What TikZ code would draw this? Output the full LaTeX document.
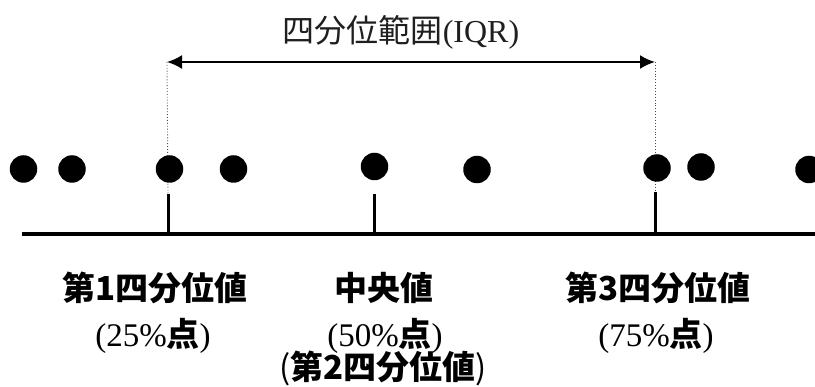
\documentclass[tikz,border=0pt]{standalone}
\usepackage{fontspec}
\setmainfont{Liberation Serif}
\newfontfamily\jp{Noto Sans CJK JP}
\usetikzlibrary{arrows.meta}
\tikzset{
  dot/.style={circle, fill=black, draw=none, minimum size=27.5pt, inner sep=0pt},
  tickline/.style={line width=3pt},
  axisline/.style={line width=4pt},
  guide/.style={line width=0.9pt, dotted, black!70},
  iqr/.style={line width=2pt, {Latex[length=15pt,width=14pt]}-{Latex[length=15pt,width=14pt]}},
  lab/.style={anchor=base, inner sep=0pt, font=\fontsize{33}{38}\selectfont},
  ttl/.style={anchor=base, inner sep=0pt, text=black!88, font=\fontsize{32}{36}\selectfont}
}
\begin{document}
\begin{tikzpicture}[x=1pt,y=-1pt]
\useasboundingbox (0,0) rectangle (815,387);
% title
\node[ttl] (title) at (401,43) {{\jp 四分位範囲}(IQR)};
% IQR arrow ends and tick tops
\coordinate (aL) at (167,62);
\coordinate (aR) at (655,62);
\coordinate (t1) at (168,194);
\coordinate (t2) at (374,194);
\coordinate (t3) at (655,192);
\coordinate (b1) at (168,234.5);
\coordinate (b2) at (374,234.5);
\coordinate (b3) at (655,234.5);
\coordinate (axL) at (22,234.5);
\coordinate (axR) at (815,234.5);
% dotted guides
\draw[guide] (aL) -- (t1);
\draw[guide] (aR) -- (t3);
\draw[iqr] (aL) -- (aR);
% dots
\node[dot] (d1) at (23.5,169) {};
\node[dot] (d2) at (72,169) {};
\node[dot] (d3) at (169.5,169) {};
\node[dot] (d4) at (233.5,169) {};
\node[dot] (d5) at (374.5,166.5) {};
\node[dot] (d6) at (477,169.5) {};
\node[dot] (d7) at (657,168) {};
\node[dot] (d8) at (701,167) {};
\node[dot] (d9) at (809,169.5) {};
% ticks and axis
\draw[tickline] (t1) -- (b1);
\draw[tickline] (t2) -- (b2);
\draw[tickline] (t3) -- (b3);
\draw[axisline] (axL) -- (axR);
% labels
\node[lab] (q1a) at (155,301) {\jp\bfseries 第1四分位値};
\node[lab] (q1b) at (153,347) {(25\%{\jp\bfseries 点})};
\node[lab] (q2a) at (384,301) {\jp\bfseries 中央値};
\node[lab] (q2b) at (385,347) {(50\%{\jp\bfseries 点})};
\node[lab] (q2c) at (383,380) {{\jp (}{\jp\bfseries 第2四分位値}{\jp )}};
\node[lab] (q3a) at (658,301) {\jp\bfseries 第3四分位値};
\node[lab] (q3b) at (656,347) {(75\%{\jp\bfseries 点})};
\end{tikzpicture}
\end{document}
